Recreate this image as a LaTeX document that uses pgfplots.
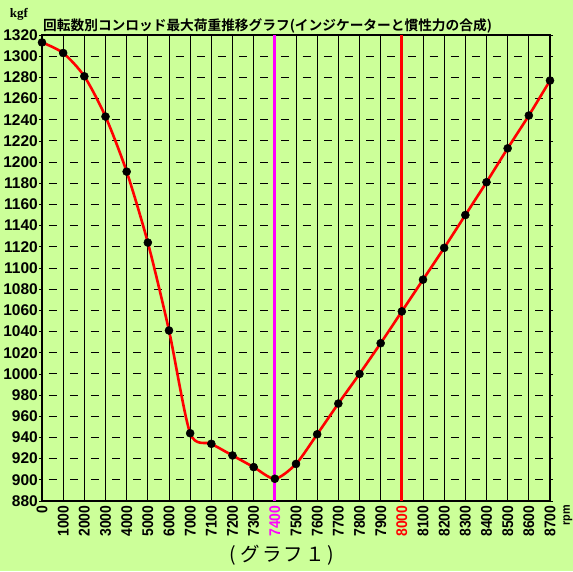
\documentclass[border=0pt]{standalone}
\usepackage{pgfplots}
\pgfplotsset{compat=1.18}
\usepackage{pgfplotstable}
\usepackage{fontspec}
\setmainfont{Liberation Sans}
\newfontfamily\ytickfont{Liberation Sans}
\newfontfamily\xtickfont{Liberation Sans}[FakeStretch=0.9]
\newfontfamily\cjk{Noto Sans CJK JP}[BoldFont={Noto Sans CJK JP Bold}]
\newfontfamily\cjkcap{Noto Sans CJK JP}[LetterSpace=12]
\newfontfamily\seriffont{Liberation Serif}
\definecolor{bg}{HTML}{CCFF99}
\definecolor{mag}{HTML}{FF00FF}
\definecolor{lred}{HTML}{FF0000}

% x = category index (0,1000,...,7000,7100,...,8700 rpm)
\pgfplotstableread{
x y
0 1313
1 1303
2 1281
3 1243
4 1191
5 1124
6 1041
7 944
8 934
9 923
10 912
11 901
12 915
13 943
14 972
15 1000
16 1029
17 1059
18 1089
19 1119
20 1150
21 1181
22 1213
23 1244
24 1277
}\loaddata

\begin{document}
\begin{tikzpicture}
\path[use as bounding box, fill=bg] (-42pt,-70pt) rectangle (531pt,501pt);
\begin{axis}[
  at={(0pt,0pt)}, anchor=south west,
  scale only axis, width=508pt, height=466pt,
  xmin=0, xmax=24, ymin=880, ymax=1320,
  axis background/.style={fill=bg},
  xtick={0,...,24},
  xticklabels={0,1000,2000,3000,4000,5000,6000,7000,7100,7200,7300,{\textcolor{mag}{7400}},7500,7600,7700,7800,7900,{\textcolor{lred}{8000}},8100,8200,8300,8400,8500,8600,8700},
  ytick={880,900,...,1320},
  /pgf/number format/assume math mode=true,
  /pgf/number format/1000 sep={},
  xtick style={draw=none},
  ytick style={black, line width=0.8pt},
  tick align=outside,
  major tick length=3pt,
  xticklabel style={rotate=90, anchor=east, inner sep=1.5pt, font=\xtickfont\bfseries\fontsize{15.5}{15.5}\selectfont},
  yticklabel style={inner sep=1pt, font=\ytickfont\bfseries\fontsize{15.5}{15.5}\selectfont},
  xmajorgrids, ymajorgrids,
  x grid style={black, line width=1pt},
  y grid style={black, line width=0.9pt, dash pattern=on 8pt off 13.1667pt, dash phase=14.57pt},
  axis line style={black, line width=1.5pt},
  clip=false,
]
\addplot[mag, line width=3pt] coordinates {(11,880) (11,1320)};
\addplot[lred, line width=3pt] coordinates {(17,880) (17,1320)};
\addplot[lred, line width=2.6pt, smooth, tension=0.45, mark=*, mark size=4pt,
  mark options={fill=black, draw=black, line width=0.5pt}] table[x=x, y=y] {\loaddata};
\end{axis}
\node[anchor=west, inner sep=0pt, font=\cjk\bfseries\fontsize{13.7}{13.7}\selectfont] at (1pt,475pt) {回転数別コンロッド最大荷重推移グラフ(インジケーターと慣性力の合成)};
\node[inner sep=0pt, font=\seriffont\bfseries\fontsize{13}{13}\selectfont] at (-23pt,487pt) {kgf};
\node[rotate=90, anchor=east, inner sep=0pt, font=\xtickfont\bfseries\fontsize{12}{12}\selectfont] at (526pt,-4pt) {rpm};
\node[inner sep=0pt, font=\cjkcap\fontsize{19.5}{19.5}\selectfont] at (240pt,-54pt) {(\hspace{4pt}グラフ１)};
\end{tikzpicture}
\end{document}
